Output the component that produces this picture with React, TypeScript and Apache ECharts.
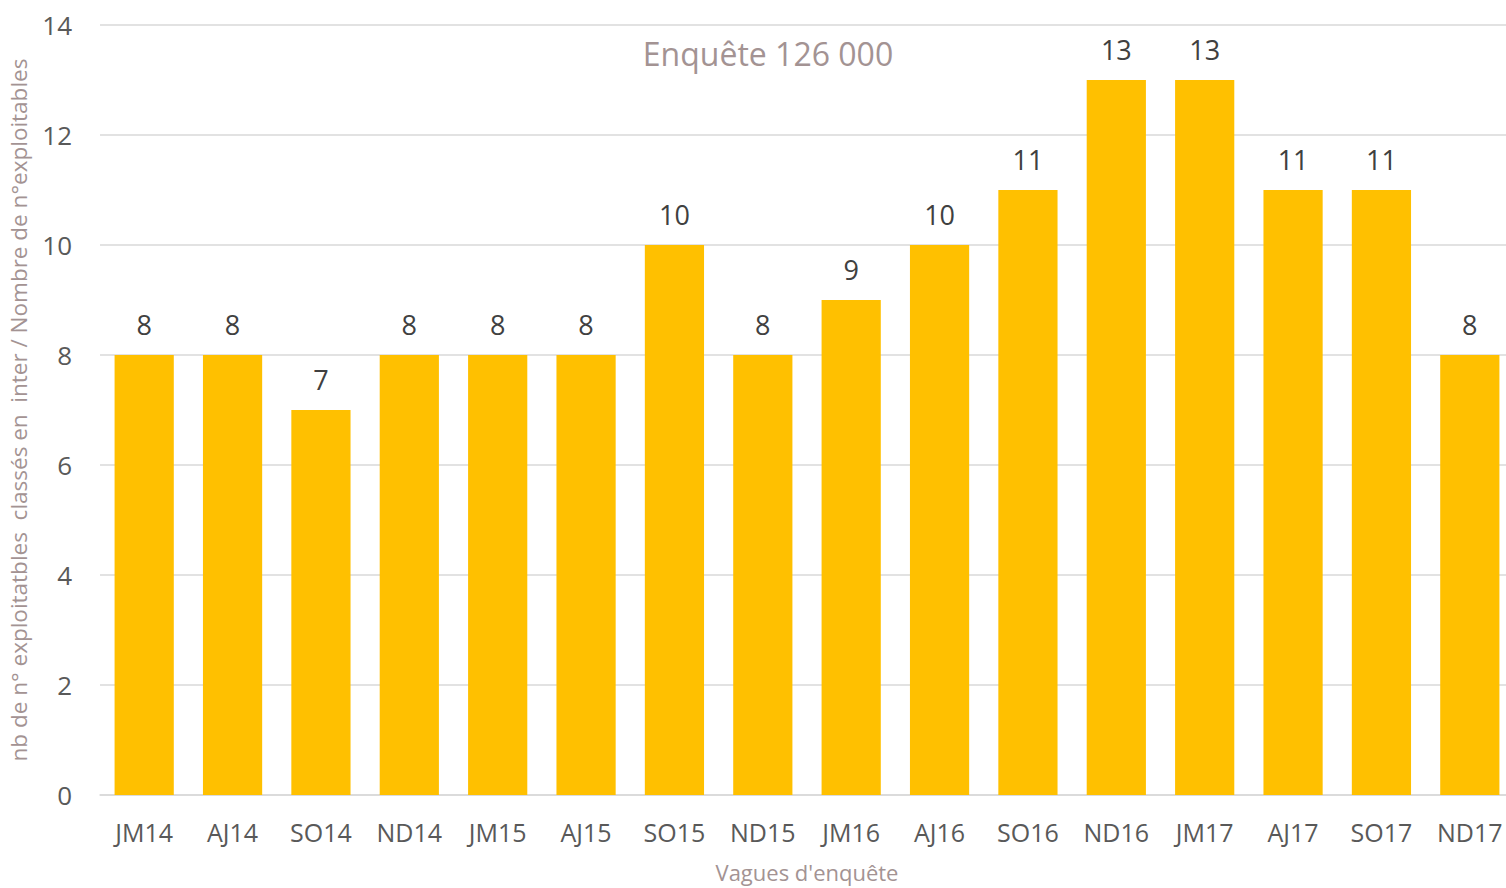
import React, { useEffect, useRef } from "react";
import * as echarts from "echarts";

const categories = ["JM14", "AJ14", "SO14", "ND14", "JM15", "AJ15", "SO15", "ND15", "JM16", "AJ16", "SO16", "ND16", "JM17", "AJ17", "SO17", "ND17"];
const values = [8, 8, 7, 8, 8, 8, 10, 8, 9, 10, 11, 13, 13, 11, 11, 8];
const titleText = "Enquête 126 000";
const yAxisName = "nb de n° exploitatbles  classés en  inter / Nombre de n°exploitables";
const xAxisName = "Vagues d'enquête";

const FONT = "'Open Sans', 'Noto Sans', sans-serif";

export default function App() {
  const ref = useRef<HTMLDivElement>(null);
  useEffect(() => {
    if (!ref.current) return;
    const chart = echarts.init(ref.current, null, { renderer: "svg" });
    chart.setOption({
      animation: false,
      backgroundColor: "#ffffff",
      title: {
        text: titleText,
        left: 763,
        top: 32,
        textAlign: "center",
        textStyle: { color: "#a39393", fontSize: 32, fontWeight: "normal", fontFamily: FONT },
      },
      grid: { left: 100, top: 25, width: 1414, height: 770, containLabel: false, outerBoundsMode: "none" },
      xAxis: {
        type: "category",
        data: categories,
        name: xAxisName,
        nameLocation: "middle",
        nameGap: 66,
        nameTextStyle: { color: "#a39393", fontSize: 22, fontFamily: FONT },
        axisLine: { lineStyle: { color: "#d9d9d9", width: 1.5 } },
        axisTick: { show: false },
        axisLabel: { color: "#595959", fontSize: 25, fontFamily: FONT, margin: 24, interval: 0 },
      },
      yAxis: {
        type: "value",
        min: 0,
        max: 14,
        interval: 2,
        name: yAxisName,
        nameLocation: "middle",
        nameGap: 70,
        nameTextStyle: { color: "#a39393", fontSize: 22.5, fontFamily: FONT },
        axisLine: { show: false },
        axisTick: { show: false },
        axisLabel: { color: "#595959", fontSize: 26, fontFamily: FONT, margin: 28 },
        splitLine: { lineStyle: { color: "#d9d9d9", width: 1.5 } },
      },
      series: [
        {
          type: "bar",
          data: values,
          barCategoryGap: "33%",
          itemStyle: { color: "#ffc000" },
          label: {
            show: true,
            position: "top",
            distance: 17,
            color: "#404040",
            fontSize: 27,
            fontFamily: FONT,
          },
        },
      ],
    });
    return () => chart.dispose();
  }, []);
  return <div ref={ref} style={{ position: "fixed", left: 0, top: 0, width: 1506, height: 888 }} />;
}
